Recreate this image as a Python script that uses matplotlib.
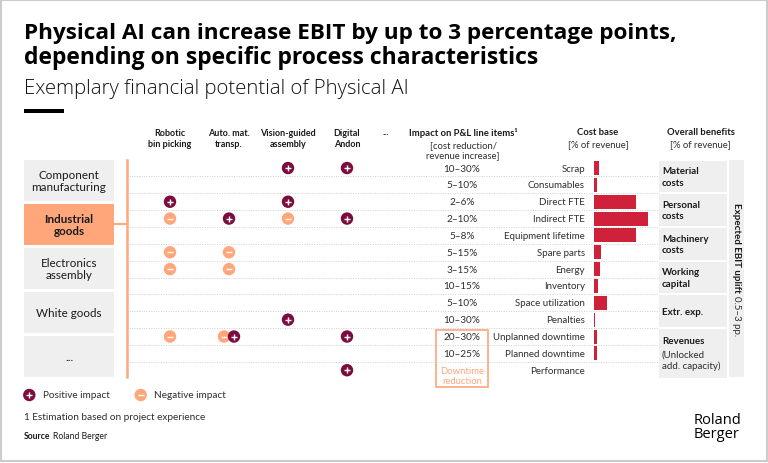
import matplotlib.pyplot as plt
from matplotlib.patches import Rectangle

plt.rcParams['font.family'] = ['Lato', 'DejaVu Sans']

# ---- data ----
industries = ['Component\nmanufacturing', 'Industrial\ngoods', 'Electronics\nassembly',
              'White goods', '...']
highlight_industry = 1
levers = ['Robotic\nbin picking', 'Auto. mat.\ntransp.', 'Vision-guided\nassembly',
          'Digital\nAndon', '...']
line_items = ['Scrap', 'Consumables', 'Direct FTE', 'Indirect FTE', 'Equipment lifetime',
              'Spare parts', 'Energy', 'Inventory', 'Space utilization', 'Penalties',
              'Unplanned downtime', 'Planned downtime', 'Performance']
impact_ranges = ['10–30%', '5–10%', '2–6%', '2–10%', '5–8%', '5–15%', '3–15%',
                 '10–15%', '5–10%', '10–30%', '20–30%', '10–25%', '']
cost_base = [1.2, 0.7, 9.5, 12.0, 9.5, 1.6, 1.5, 0.9, 3.0, 0.3, 0.7, 0.7, 0.0]
# (line item row, lever column)
positive = [(0, 2), (0, 3), (2, 0), (2, 2), (3, 1), (3, 3), (9, 2), (10, 1), (10, 3), (12, 3)]
negative = [(3, 0), (3, 2), (5, 0), (5, 1), (6, 0), (6, 1), (10, 0), (10, 1)]
benefits = ['Material\ncosts', 'Personal\ncosts', 'Machinery\ncosts', 'Working\ncapital',
            'Extr. exp.', 'Revenues']
benefit_rows = [(0, 1), (2, 3), (4, 5), (6, 7), (8, 9), (10, 12)]
downtime_rows = (10, 12)

# ---- colours ----
red = '#cf2139'
plus_c = '#7b0c3d'
minus_c = '#ffa67b'
box_c = '#efefef'
txt = '#2e2e2e'

fig = plt.figure(figsize=(7.68, 4.64), dpi=100)
ax = fig.add_axes([0, 0, 1, 1])
ax.set_xlim(0, 768)
ax.set_ylim(464, 0)
ax.axis('off')
r = fig.canvas.get_renderer()


def fit_width(t, width):
    # scale the font so the text spans the given pixel width
    w = t.get_window_extent(r).width
    t.set_fontsize(t.get_fontsize() * width / w)


ax.add_patch(Rectangle((1, 1), 766, 461, fill=False, ec='#cccccc', lw=1.5))

# title block
title_font = ['Open Sans', 'DejaVu Sans']
t = ax.text(24, 39, 'Physical AI can increase EBIT by up to 3 percentage points,',
            fontsize=14, fontweight='bold', color='black', va='baseline', family=title_font)
fit_width(t, 655)
t = ax.text(24, 63.5, 'depending on specific process characteristics',
            fontsize=14, fontweight='bold', color='black', va='baseline', family=title_font)
fit_width(t, 517)
t = ax.text(24, 94, 'Exemplary financial potential of Physical AI',
            fontsize=12.5, fontweight='light', color='#111111', va='baseline',
            family=title_font)
fit_width(t, 387)
ax.add_patch(Rectangle((24, 110), 40, 4, color='black', lw=0))

# rows
row_top = 160.6
row_h = 16.85


def row_y(i):
    return row_top + row_h * (i + 0.5)


n_rows = len(line_items)
row_bottom = row_top + row_h * n_rows

# dotted separators
for i in range(n_rows - 1):
    y = row_top + row_h * (i + 1)
    ax.plot([129, 658], [y, y], ls=(0, (1, 1.5)), color='#cfcfcf', lw=0.7, zorder=1)

# industry boxes
b_top, b_bot, gap = 161, 378, 3.4
bh = (b_bot - b_top - gap * (len(industries) - 1)) / len(industries)
for k, name in enumerate(industries):
    y0 = b_top + k * (bh + gap)
    hl = k == highlight_industry
    ax.add_patch(Rectangle((24, y0), 90, bh, color=minus_c if hl else box_c, lw=0, zorder=2))
    ax.text(69, y0 + bh / 2, name, ha='center', va='center', fontsize=8.4,
            fontweight='bold' if hl else 'normal', color='#1a1a1a', linespacing=1.15, zorder=3)
    if hl:
        ax.plot([114, 126.5], [y0 + bh / 2] * 2, color=minus_c, lw=1.5, zorder=2)
ax.plot([126.5, 126.5], [b_top, b_bot], color=minus_c, lw=1.8, zorder=2)

# lever headers and marks
lever_x0, lever_dx = 170, 59
for j, name in enumerate(levers):
    if name == '...':
        ax.text(386, 133, name, ha='center', va='center', fontsize=6.5, fontweight='bold',
                color='#1a1a1a')
    else:
        ax.text(lever_x0 + lever_dx * j, 139, name, ha='center', va='center', fontsize=6.5,
                fontweight='bold', color='#1a1a1a', linespacing=1.35)

both = set(positive) & set(negative)
for marks, col, sign, z in [(negative, minus_c, '_', 4), (positive, plus_c, '+', 6)]:
    xs, ys = [], []
    for (rr, j) in marks:
        x = lever_x0 + lever_dx * j
        if (rr, j) in both:
            x += 5 if sign == '+' else -5
        xs.append(x)
        ys.append(row_y(rr))
    ax.scatter(xs, ys, s=80, color=col, edgecolors='none', zorder=z)
    ax.scatter(xs, ys, s=14, marker=sign, color='white', linewidths=1.0, zorder=z + 1)

# impact column
ax.text(463, 133, 'Impact on P&L line items¹', ha='center', va='center', fontsize=6.8,
        fontweight='bold', color='#1a1a1a')
ax.text(463, 150.5, '[cost reduction/\nrevenue increase]', ha='center', va='center',
        fontsize=6.8, color=txt, linespacing=1.2)
for i, (item, rng) in enumerate(zip(line_items, impact_ranges)):
    if rng:
        ax.text(462, row_y(i), rng, ha='center', va='center', fontsize=7.2, color=txt)
    ax.text(585, row_y(i), item, ha='right', va='center', fontsize=7, color=txt)

d0, d1 = downtime_rows
ax.add_patch(Rectangle((436, row_y(d0) - 6.5), 52, row_y(d1) - row_y(d0) + 23.5,
                       fill=False, ec=minus_c, lw=1.2, zorder=3))
ax.text(462, row_y(d1) + 5, 'Downtime\nreduction', ha='center', va='center', fontsize=6.8,
        color=minus_c, linespacing=1.1)

# cost base bars
ax.text(598, 133, 'Cost base', ha='center', va='center', fontsize=6.8, fontweight='bold',
        color='#1a1a1a')
ax.text(598, 145, '[% of revenue]', ha='center', va='center', fontsize=6.8, color=txt)
bx0, bw = 593.5, 66.6
cax = fig.add_axes([bx0 / 768, (464 - row_bottom) / 464, bw / 768, (row_bottom - row_top) / 464])
cax.barh(range(n_rows), cost_base, height=0.83, color=red)
cax.set_xlim(0, 14.8)
cax.set_ylim(n_rows - 0.5, -0.5)
cax.axis('off')

# overall benefits
ax.text(700.7, 133, 'Overall benefits', ha='center', va='center', fontsize=6.8,
        fontweight='bold', color='#1a1a1a')
ax.text(700.7, 145, '[% of revenue]', ha='center', va='center', fontsize=6.8, color=txt)
for name, (r0, r1) in zip(benefits, benefit_rows):
    y0 = row_top + row_h * r0 + 1
    y1 = row_top + row_h * (r1 + 1) - 1
    ax.add_patch(Rectangle((658.5, y0), 68.2, y1 - y0, color=box_c, lw=0, zorder=2))
    yc = (y0 + y1) / 2
    if name == 'Revenues':
        ax.text(662, yc - 12.6, name, va='center', fontsize=7, fontweight='bold',
                color='#1a1a1a', zorder=3)
        ax.text(662, yc + 6.3, '(Unlocked\nadd. capacity)', va='center', fontsize=7,
                color=txt, linespacing=1.3, zorder=3)
    else:
        ax.text(662, yc, name, va='center', fontsize=7, fontweight='bold',
                color='#1a1a1a', linespacing=1.35, zorder=3)

ax.add_patch(Rectangle((729.3, 161), 14.7, 216.7, color=box_c, lw=0, zorder=2))
t1 = ax.text(736.5, 0, 'Expected EBIT uplift', rotation=-90, ha='center', va='top',
             fontsize=7, fontweight='bold', color='#1a1a1a', zorder=3)
t2 = ax.text(736.5, 0, '0.5–3 pp.', rotation=-90, ha='center', va='top',
             fontsize=7, color=txt, zorder=3)
l1 = t1.get_window_extent(r).height
l2 = t2.get_window_extent(r).height
start = 269.5 - (l1 + 3 + l2) / 2
t1.set_y(start)
t2.set_y(start + l1 + 3)

# legend and notes
ax.scatter([29.3], [396], s=80, color=plus_c, edgecolors='none')
ax.scatter([29.3], [396], s=14, marker='+', color='white', linewidths=1.0)
ax.text(43.3, 396, 'Positive impact', va='center', fontsize=7.2, color=txt)
ax.scatter([140.7], [396], s=80, color=minus_c, edgecolors='none')
ax.scatter([140.7], [396], s=14, marker='_', color='white', linewidths=1.0)
ax.text(154.3, 396, 'Negative impact', va='center', fontsize=7.2, color=txt)
ax.text(24, 418, '1 Estimation based on project experience', va='center', fontsize=7.2,
        color=txt)
src = ax.text(24, 437, 'Source', va='center', fontsize=6.2, fontweight='bold', color='#1a1a1a')
sw = src.get_window_extent(r).width
ax.text(24 + sw + 2.5, 437, 'Roland Berger', va='center', fontsize=6.2, color='#1a1a1a')

ax.text(693.3, 427.5, 'Roland\nBerger', va='center', fontsize=10.5, color='black',
        family=title_font, linespacing=0.95)

fig.savefig('out.png', dpi=100)
